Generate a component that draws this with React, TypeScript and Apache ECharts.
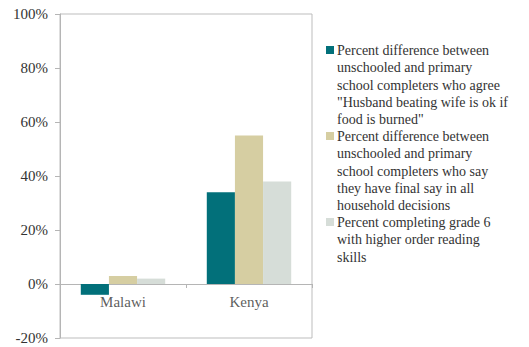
import React, { useEffect, useRef } from "react";
import * as echarts from "echarts";

const categories = ["Malawi", "Kenya"];
const seriesNames = [
  'Percent difference between\nunschooled and primary\nschool completers who agree\n"Husband beating wife is ok if\nfood is burned"',
  "Percent difference between\nunschooled and primary\nschool completers who say\nthey have final say in all\nhousehold decisions",
  "Percent completing grade 6\nwith higher order reading\nskills",
];
const beatingValues = [-4, 34];
const finalSayValues = [3, 55];
const readingValues = [2, 38];
const colors = ["#02707a", "#d6cea2", "#d6ddd8"];

const FONT = "Liberation Serif";

export default function App() {
  const ref = useRef<HTMLDivElement>(null);
  useEffect(() => {
    const chart = echarts.init(ref.current!, undefined, { renderer: "svg" });
    const values = [beatingValues, finalSayValues, readingValues];
    const lineH = 17.2;
    const legendGraphics: any[] = [];
    let y = 42;
    seriesNames.forEach((name, i) => {
      const n = name.split("\n").length;
      legendGraphics.push({
        type: "rect",
        left: 326,
        top: y + 4,
        shape: { width: 8, height: 8 },
        style: { fill: colors[i] },
      });
      legendGraphics.push({
        type: "text",
        left: 337,
        top: y,
        style: {
          text: name,
          font: `14px "${FONT}"`,
          fill: "#333",
          lineHeight: lineH,
        },
      });
      y += n * lineH;
    });
    chart.setOption({
      animation: false,
      grid: {
        left: 60,
        right: 217,
        top: 14,
        bottom: 9,
        show: true,
        borderColor: "#bdbdbd",
        borderWidth: 1,
        containLabel: false,
        outerBoundsMode: "none",
      },
      xAxis: {
        type: "category",
        data: categories,
        axisLine: { onZero: true, lineStyle: { color: "#b5b5b5" } },
        axisTick: { show: true, length: 4, lineStyle: { color: "#b5b5b5" } },
        axisLabel: { show: false },
      },
      yAxis: {
        type: "value",
        min: -20,
        max: 100,
        interval: 20,
        splitLine: { show: false },
        axisLine: { show: true, lineStyle: { color: "#b5b5b5" } },
        axisTick: { show: true, length: 5, lineStyle: { color: "#b5b5b5" } },
        axisLabel: {
          color: "#333",
          fontFamily: FONT,
          fontSize: 15,
          margin: 12,
          formatter: "{value}%",
        },
      },
      series: [
        ...values.map((v, i) => ({
          type: "bar",
          name: seriesNames[i],
          data: v,
          barGap: "0%",
          barCategoryGap: "33%",
          itemStyle: { color: colors[i] },
        })),
        {
          type: "scatter",
          name: "labels",
          data: categories.map((c) => [c, 0]),
          symbolSize: 0,
          silent: true,
          z: 10,
          label: {
            show: true,
            position: "bottom",
            distance: 10,
            formatter: (p: any) => p.value[0],
            color: "#333",
            fontFamily: FONT,
            fontSize: 15,
          },
        },
      ],
      graphic: legendGraphics,
    });
    return () => chart.dispose();
  }, []);
  return <div ref={ref} style={{ width: 529, height: 347, position: "absolute", left: 0, top: 0 }} />;
}
